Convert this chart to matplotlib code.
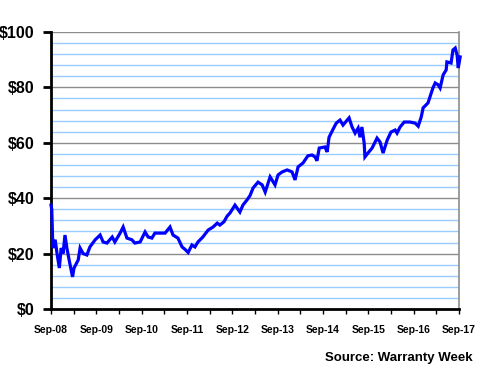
import matplotlib
matplotlib.use("Agg")
import matplotlib.pyplot as plt
from matplotlib.ticker import FixedLocator

# months since Sep-2008
months = [0.0, 0.2, 0.5, 1.1, 1.6, 2.2, 2.7, 3.2, 3.7, 4.2, 4.8, 5.7, 6.1, 7.2, 7.7,
          8.5, 9.5, 10.3, 11.7, 13.0, 13.8, 14.8, 16.2, 16.9, 18.3, 19.1, 20.1, 21.4,
          22.2, 23.6, 24.9, 25.7, 26.7, 27.5, 28.9, 30.2, 31.5, 32.3, 33.6, 34.7, 35.5,
          36.3, 37.3, 38.1, 38.9, 40.2, 41.6, 42.9, 44.0, 44.7, 45.8, 46.6, 47.4, 48.7,
          50.0, 50.8, 51.9, 52.7, 53.5, 54.8, 55.9, 56.7, 58.0, 59.3, 60.1, 61.2, 62.5,
          63.8, 64.6, 65.4, 66.7, 68.0, 69.1, 69.9, 70.4, 71.0, 72.5, 73.1, 73.6, 74.7,
          75.5, 76.5, 77.3, 78.4, 78.9, 79.7, 80.5, 81.3, 81.8, 82.3, 82.9, 83.1, 83.9,
          85.0, 86.3, 87.1, 87.9, 89.0, 90.0, 91.1, 91.6, 92.4, 93.5, 95.0, 96.4, 97.2,
          98.0, 98.5, 99.8, 100.3, 101.1, 101.7, 102.5, 103.0, 103.8, 104.6, 104.8,
          105.9, 106.4, 107.0, 107.5, 107.8, 108.3]
price = [37.5, 36.0, 22.0, 25.0, 20.0, 14.8, 22.0, 20.0, 26.7, 22.0, 17.7, 11.6, 14.8,
         17.7, 22.0, 20.0, 19.5, 22.4, 25.0, 26.7, 24.2, 23.8, 26.0, 24.2, 27.4, 29.6,
         25.6, 25.0, 23.8, 24.2, 27.8, 26.0, 25.6, 27.4, 27.4, 27.4, 29.6, 26.7, 25.6,
         22.4, 21.5, 20.4, 23.1, 22.4, 24.2, 26.0, 28.5, 29.6, 31.0, 30.3, 31.5, 33.5,
         34.7, 37.5, 35.0, 37.5, 39.4, 41.0, 43.7, 45.8, 44.8, 42.2, 47.7, 44.8, 48.4,
         49.5, 50.2, 49.5, 46.6, 51.3, 52.7, 55.3, 55.6, 54.9, 53.5, 58.1, 58.5, 56.7,
         62.0, 65.0, 67.1, 68.2, 66.4, 68.2, 69.0, 65.7, 63.5, 65.3, 62.0, 65.7, 59.9,
         54.9, 56.3, 58.1, 61.7, 60.3, 56.3, 61.0, 63.9, 64.6, 63.5, 65.7, 67.5, 67.5,
         67.1, 66.0, 69.3, 72.6, 74.4, 76.5, 79.8, 81.6, 80.9, 79.8, 84.5, 86.3, 89.2,
         88.8, 93.5, 94.2, 91.7, 87.0, 91.0]

tick_labels = ["Sep-08", "Sep-09", "Sep-10", "Sep-11", "Sep-12",
               "Sep-13", "Sep-14", "Sep-15", "Sep-16", "Sep-17"]
y_labels = ["$0", "$20", "$40", "$60", "$80", "$100"]

plt.rcParams['font.family'] = ['Liberation Sans', 'DejaVu Sans']

fig = plt.figure(figsize=(4.8, 3.8), dpi=100)
ax = fig.add_axes([51/480, 71/380, 408/480, 277/380])

ax.set_xlim(0, 108)
ax.set_ylim(0, 100)

# gridlines
for v in range(4, 100, 4):
    if v % 20:
        ax.axhline(v, color="#99ccff", lw=1.0, zorder=1)
for v in (20, 40, 60, 80, 100):
    ax.axhline(v, color="#8c8c8c", lw=1.0, zorder=1)

ax.plot(months, price, color="#0000ff", lw=2.3, zorder=3, clip_on=False,
        solid_joinstyle="miter")

ax.set_yticks([0, 20, 40, 60, 80, 100])
ax.set_yticklabels(y_labels, fontsize=11.5, fontweight="bold")
ax.set_xticks(list(range(0, 109, 12)))
ax.set_xticklabels(tick_labels, fontsize=7.5, fontweight="bold")
ax.xaxis.set_minor_locator(FixedLocator(list(range(6, 108, 12))))

ax.tick_params(axis="y", direction="out", length=6, width=2, pad=6)
ax.tick_params(axis="x", which="both", direction="out", length=3.5, width=1, pad=8)

for s in ("left", "bottom"):
    ax.spines[s].set_color("black")
    ax.spines[s].set_linewidth(2)
ax.spines["right"].set_color("#8c8c8c")
ax.spines["right"].set_linewidth(1.2)
ax.spines["top"].set_visible(False)

fig.text(473/480, (380-357.5)/380, "Source: Warranty Week", ha="right", va="center",
         fontsize=9.5, fontweight="bold")

fig.savefig("out.png", dpi=100)
